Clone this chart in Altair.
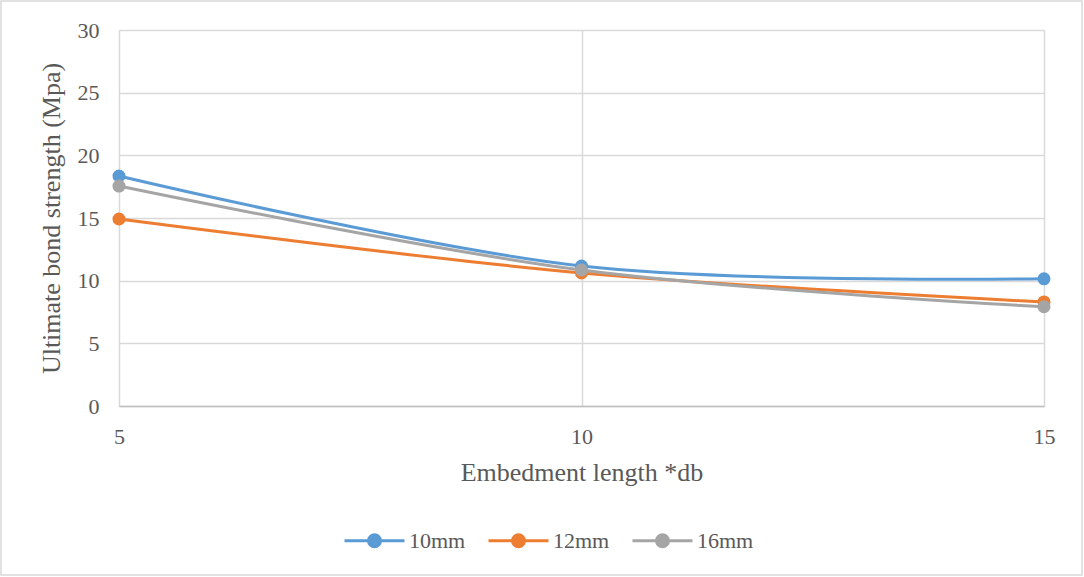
import altair as alt
import pandas as pd

embed_len = [5, 10, 15]
s10 = [18.35, 11.17, 10.15]
s12 = [14.92, 10.62, 8.3]
s16 = [17.55, 10.85, 7.92]
series = ["10mm", "12mm", "16mm"]
colors = ["#5B9BD5", "#ED7D31", "#A5A5A5"]

rows = []
for name, vals in zip(series, [s10, s12, s16]):
    for x, v in zip(embed_len, vals):
        rows.append({"x": x, "y": v, "series": name})
df = pd.DataFrame(rows)

FONT = "'Times New Roman', 'Liberation Serif', Tinos, 'DejaVu Serif', serif"
TXT = "#595959"

xenc = alt.X("x:Q", scale=alt.Scale(domain=[5, 15], nice=False),
             axis=alt.Axis(values=[5, 10, 15], format="d", title="Embedment length *db",
                           ticks=False, labelPadding=20, titlePadding=12, labelFlush=False,
                           labelFont=FONT, titleFont=FONT,
                           domainColor="#BFBFBF", domainWidth=1.5,
                           gridColor="#D9D9D9", gridWidth=1.5))
yenc = alt.Y("y:Q", scale=alt.Scale(domain=[0, 30], nice=False),
             axis=alt.Axis(values=[0, 5, 10, 15, 20, 25, 30], format="d",
                           title="Ultimate bond strength (Mpa)",
                           labelFont=FONT, titleFont=FONT,
                           ticks=False, domain=False, labelPadding=20, titlePadding=13,
                           gridColor="#D9D9D9", gridWidth=1.5))

sc = alt.Scale(domain=series, range=colors)

# legend symbol: line plus a disc drawn with concentric stroked rings
sym = ("M-1,0L1,0"
       "M-0.2,0A0.2,0.2,0,1,1,0.2,0A0.2,0.2,0,1,1,-0.2,0"
       "M-0.1,0A0.1,0.1,0,1,1,0.1,0A0.1,0.1,0,1,1,-0.1,0"
       "M-0.025,0A0.025,0.025,0,1,1,0.025,0A0.025,0.025,0,1,1,-0.025,0")
leg = alt.Legend(title=None, orient="none", legendX=224, legendY=479,
                 direction="horizontal", symbolType=sym, symbolSize=3600,
                 symbolStrokeWidth=3, labelFont=FONT, labelFontSize=22,
                 labelColor=TXT, columnPadding=16, labelOffset=3)

lines = alt.Chart(df).mark_line(strokeWidth=3, interpolate="cardinal").encode(
    x=xenc, y=yenc,
    color=alt.Color("series:N", scale=sc, legend=leg),
    detail="series:N",
)

points = alt.Chart(df).mark_point(filled=True, size=170, opacity=1).encode(
    x="x:Q", y="y:Q",
    color=alt.Color("series:N", scale=sc),
)

frame = alt.Chart(pd.DataFrame({"a": [0]})).mark_rect(
    fillOpacity=0, stroke="#D9D9D9", strokeWidth=1.5).encode(
    x=alt.value(-118), x2=alt.value(963), y=alt.value(-29), y2=alt.value(545))

chart = alt.layer(frame, lines, points).properties(
    width=925, height=376,
    autosize=alt.AutoSizeParams(type="none"),
    padding={"left": 119, "top": 30, "right": 40, "bottom": 171},
    background="white",
).configure_view(stroke=None).configure_axis(
    labelFont=FONT, labelFontSize=22, labelColor=TXT,
    titleFont=FONT, titleFontSize=26, titleColor=TXT, titleFontWeight="normal",
)

chart.save("out.html", embed_options={"renderer": "svg", "actions": False})
